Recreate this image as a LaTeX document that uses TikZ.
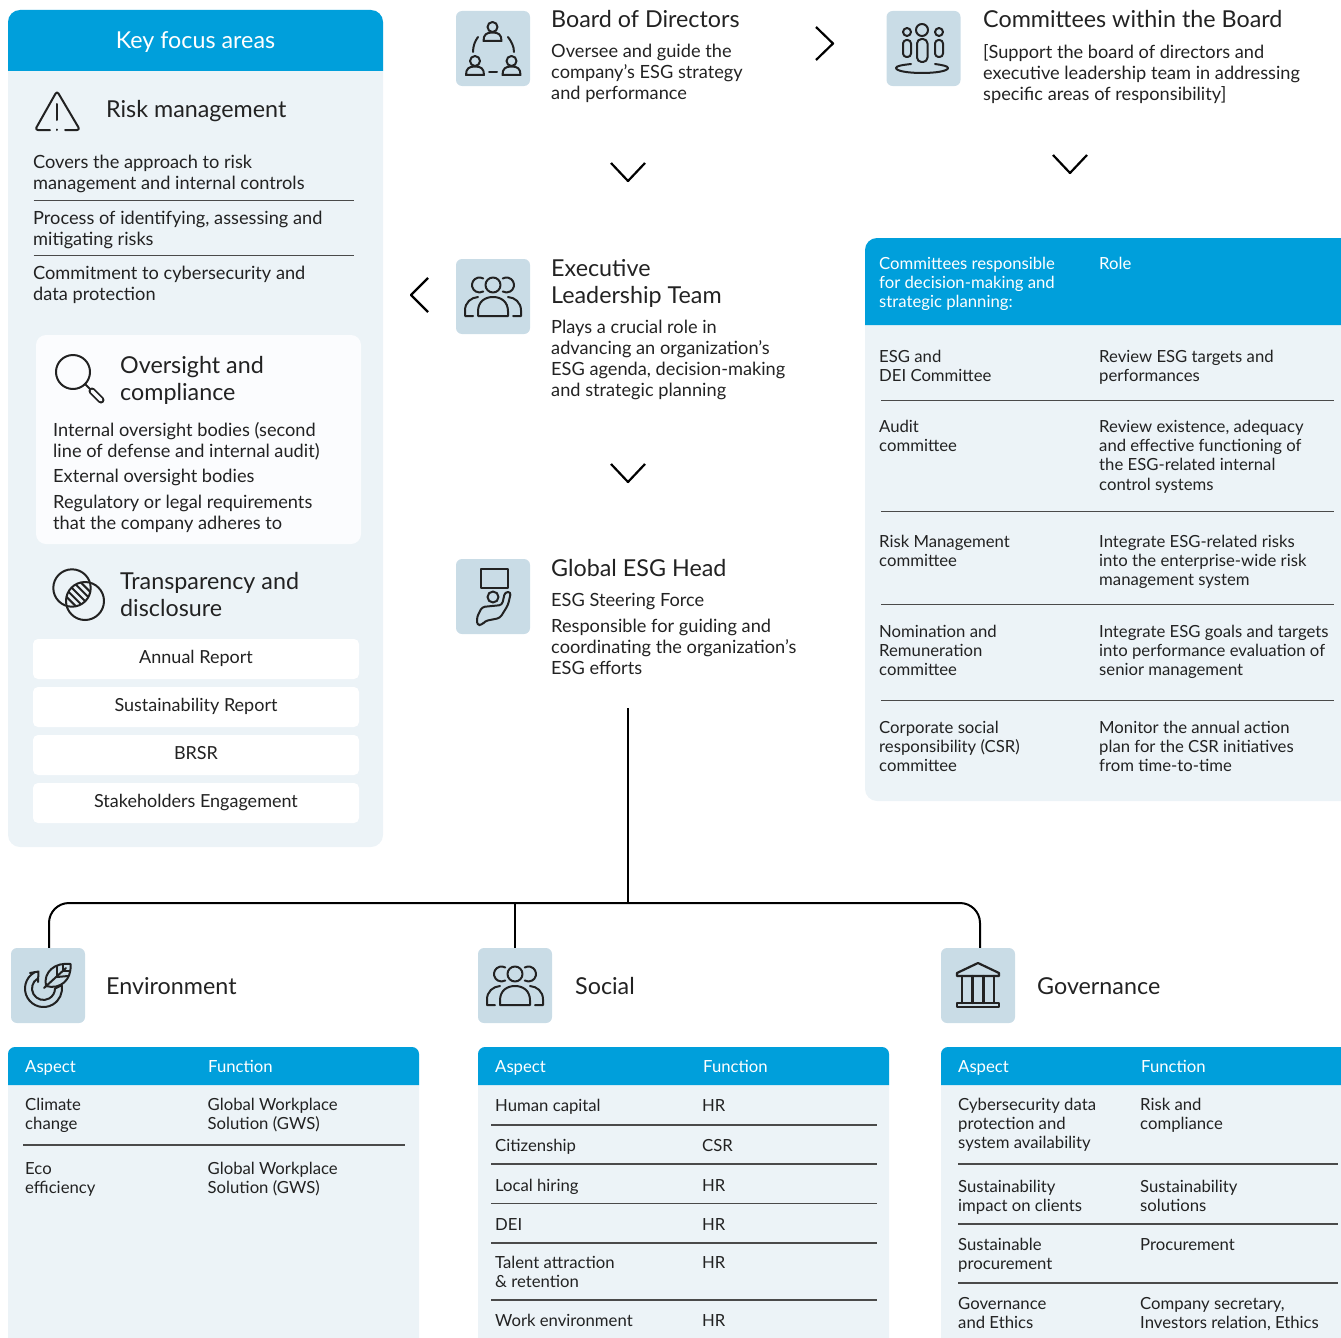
\documentclass[tikz,border=0pt]{standalone}
\usepackage{fontspec}
\setmainfont{Lato}
\usepackage{xcolor}
\definecolor{panelblue}{HTML}{ECF3F7}
\definecolor{headblue}{HTML}{009FDB}
\definecolor{iconblue}{HTML}{C9DCE6}
\definecolor{inkgray}{HTML}{222222}
\definecolor{rulegray}{HTML}{4A4A4A}
\definecolor{paperwhite}{HTML}{FBFCFE}
\tikzset{
    headtxt/.style={anchor=north west, inner sep=0pt, yshift=-2pt, align=left, text=inkgray, font=\fontsize{23.3}{27}\selectfont, execute at begin node=\strut},
    bodytxt/.style={anchor=north west, inner sep=0pt, yshift=-2pt, align=left, text=inkgray, font=\fontsize{18.2}{21}\selectfont, execute at begin node=\strut},
    celltxt/.style={anchor=north west, inner sep=0pt, yshift=-2pt, align=left, text=inkgray, font=\fontsize{16.7}{19.2}\selectfont, execute at begin node=\strut},
    whitecell/.style={celltxt, text=white},
    iconbox/.style={fill=iconblue, rounded corners=6pt, minimum width=74pt, minimum height=75pt, inner sep=0pt},
    pillbox/.style={fill=white, rounded corners=5pt, minimum width=326pt, minimum height=40pt, inner sep=0pt, text height=12pt, text depth=4pt, text=inkgray, font=\fontsize{18}{21}\selectfont},
    ruleln/.style={draw=rulegray, line width=1.2pt},
    icn/.style={draw=inkgray, line width=2pt, line cap=round, line join=round},
    chevron/.style={draw=black, line width=2.2pt, line join=round},
    chevdown/.pic={\draw[chevron] (-17,-9) -- (0,9) -- (17,-9);},
    headperson/.pic={
        \draw[icn] (0,-8) circle (5pt);
        \draw[icn] (-9,6) .. controls (-9,-0.5) and (-6,-2.5) .. (0,-2.5) .. controls (6,-2.5) and (9,-0.5) .. (9,6) -- cycle;
    },
    trio/.pic={
        \draw[icn] (0,-11.5) circle (7.5pt);
        \draw[icn] (-9.75,-18) arc[start angle=60, end angle=300, radius=7.5pt];
        \draw[icn] (9.75,-18) arc[start angle=120, end angle=-120, radius=7.5pt];
        \draw[icn] (-15,19.5) -- (-15,15) .. controls (-15,5) and (-8,0.5) .. (0,0.5) .. controls (8,0.5) and (15,5) .. (15,15) -- (15,19.5) -- cycle;
        \draw[icn] (-20,19.5) -- (-28,19.5) -- (-28,14) .. controls (-28,6) and (-22,1) .. (-15,0.5);
        \draw[icn] (20,19.5) -- (28,19.5) -- (28,14) .. controls (28,6) and (22,1) .. (15,0.5);
    },
}
\begin{document}
\begin{tikzpicture}[x=1pt, y=-1pt]
    \useasboundingbox (0,0) rectangle (1341,1338);

    % left panel
    \fill[panelblue, rounded corners=12pt] (8,10) rectangle (383,847);
    \fill[headblue] (8,71) [rounded corners=12pt] -- (8,10) -- (383,10) [sharp corners] -- (383,71) -- cycle;
    \fill[paperwhite, rounded corners=10pt] (36,335) rectangle (361,544);

    \node[anchor=center, inner sep=0pt, text=white, font=\fontsize{23.3}{27}\selectfont] (keyhead) at (195.5,42) {Key focus areas};
    \node[headtxt] (riskhead) at (106,96) {Risk management};
    \node[bodytxt] (riska) at (33,153) {Covers the approach to risk\\management and internal controls};
    \node[bodytxt] (riskb) at (33,209) {Process of identifying, assessing and\\mitigating risks};
    \node[bodytxt] (riskc) at (33,264) {Commitment to cybersecurity and\\data protection};
    \draw[ruleln] (33.5,200.5) -- (354,200.5);
    \draw[ruleln] (33.5,255.5) -- (354,255.5);

    \node[headtxt] (overhead) at (120,354) {Oversight and\\compliance};
    \node[bodytxt] (overa) at (53,420) {Internal oversight bodies (second\\line of defense and internal audit)};
    \node[bodytxt] (overb) at (53,466) {External oversight bodies};
    \node[bodytxt] (overc) at (53,493) {Regulatory or legal requirements\\that the company adheres to};

    \node[headtxt] (transhead) at (120,570) {Transparency and\\disclosure};
    \node[pillbox] (annual) at (196,659) {Annual Report};
    \node[pillbox] (sustrep) at (196,707) {Sustainability Report};
    \node[pillbox] (brsr) at (196,755) {BRSR};
    \node[pillbox] (stake) at (196,803) {Stakeholders Engagement};

    % warning sign
    \draw[icn, rounded corners=3pt] (50,130) -- (35,130) -- (57,91) -- (80,130) -- (65,130);
    \draw[icn] (57,104) -- (57,120);
    \draw[icn] (57,129.5) -- (57,130);
    % magnifier
    \draw[icn] (73,372) circle (17pt);
    \draw[icn] (85,384) -- (90,389);
    \draw[icn, line width=7pt] (92,391) -- (101,400);
    \draw[paperwhite, line width=3.2pt, line cap=round] (92,391) -- (101,400);
    % venn circles
    \begin{scope}
        \clip (72,588) circle (18.7pt);
        \clip (85,601) circle (19pt);
        \draw[icn] (57.3,587.7) -- (85.3,615.7);
        \draw[icn] (60.9,584.1) -- (88.9,612.1);
        \draw[icn] (64.5,580.5) -- (92.5,608.5);
        \draw[icn] (68.1,576.9) -- (96.1,604.9);
        \draw[icn] (71.7,573.3) -- (99.7,601.3);
    \end{scope}
    \draw[icn] (72,588) circle (18.7pt);
    \draw[icn] (85,601) circle (19pt);

    % middle column
    \node[iconbox] (boardicon) at (493,48.5) {};
    \node[iconbox] (commicon) at (923.5,48.5) {};
    \node[iconbox] (execicon) at (493,296.5) {};
    \node[iconbox] (esgicon) at (493,596.5) {};

    \pic at (492.5,35) {headperson};
    \pic at (475,69) {headperson};
    \pic at (511.5,69) {headperson};
    \draw[icn] (478,37) .. controls (475,41) and (473,46) .. (473,52);
    \draw[icn] (508,37) .. controls (511,41) and (514,46) .. (514,52);
    \draw[icn] (489,72) -- (497,72);

    \draw[icn] (922,30) circle (6pt);
    \draw[icn] (907,32) circle (4pt);
    \draw[icn] (939,32) circle (4pt);
    \draw[icn, rounded corners=4.5pt] (917,39) rectangle (927.5,62);
    \draw[icn, rounded corners=3.5pt] (903,40) rectangle (911,57);
    \draw[icn, rounded corners=3.5pt] (935,40) rectangle (943,57);
    \draw[icn] (911,64) .. controls (902,65) and (896,66) .. (896,68) .. controls (896,71) and (908,73) .. (922,73) .. controls (936,73) and (948,71) .. (948,68) .. controls (948,66) and (942,65) .. (935,64);

    \pic at (493,296.5) {trio};

    \draw[icn, line width=2.2pt] (481,569) rectangle (508,588);
    \draw[icn] (493,597) circle (5.5pt);
    \draw[icn, rounded corners=3pt] (505,592) -- (502,605) -- (482,607) -- (477,617) -- (477,625) -- (482,625) -- (485,621) -- (500,618) -- (508,605) -- (511,592) -- cycle;

    \node[headtxt] (boardhead) at (551,6) {Board of Directors};
    \node[bodytxt] (boardtxt) at (551,42) {Oversee and guide the\\company's ESG strategy\\and performance};
    \node[headtxt] (commhead) at (983,6) {Committees within the Board};
    \node[bodytxt] (commtxt) at (983,42) {[Support the board of directors and\\executive leadership team in addressing\\specific areas of responsibility]};
    \node[headtxt] (exechead) at (551,257) {Executive\\Leadership Team};
    \node[bodytxt] (exectxt) at (551,318) {Plays a crucial role in\\advancing an organization's\\ESG agenda, decision-making\\and strategic planning};
    \node[headtxt] (esghead) at (551,555) {Global ESG Head};
    \node[bodytxt] (esgsub) at (551,590) {ESG Steering Force};
    \node[bodytxt] (esgtxt) at (551,617) {Responsible for guiding and\\coordinating the organization's\\ESG efforts};

    % chevrons
    \draw[chevron] (816,27) -- (833,43.5) -- (816,60);
    \draw[chevron] (428,278) -- (411,295) -- (428,312);
    \pic at (628,172) {chevdown};
    \pic at (1070,164) {chevdown};
    \pic at (628,473) {chevdown};

    % committees table
    \fill[panelblue] (1341,238) [rounded corners=12pt] -- (865,238) -- (865,801) [sharp corners] -- (1341,801) -- cycle;
    \fill[headblue] (1341,238) [rounded corners=12pt] -- (865,238) [sharp corners] -- (865,325) -- (1341,325) -- cycle;
    \node[whitecell] (rolehead) at (879,255) {Committees responsible\\for decision-making and\\strategic planning:};
    \node[whitecell] (rolelab) at (1099,254) {Role};
    \node[celltxt] (esgcom) at (879,348) {ESG and\\DEI Committee};
    \node[celltxt] (esgrole) at (1099,348) {Review ESG targets and\\performances};
    \node[celltxt] (auditcom) at (879,418) {Audit\\committee};
    \node[celltxt] (auditrole) at (1099,418) {Review existence, adequacy\\and effective functioning of\\the ESG-related internal\\control systems};
    \node[celltxt] (riskcom) at (879,533) {Risk Management\\committee};
    \node[celltxt] (riskrole) at (1099,533) {Integrate ESG-related risks\\into the enterprise-wide risk\\management system};
    \node[celltxt] (nomcom) at (879,623) {Nomination and\\Remuneration\\committee};
    \node[celltxt] (nomrole) at (1099,623) {Integrate ESG goals and targets\\into performance evaluation of\\senior management};
    \node[celltxt] (csrcom) at (879,719) {Corporate social\\responsibility (CSR)\\committee};
    \node[celltxt] (csrrole) at (1099,719) {Monitor the annual action\\plan for the CSR initiatives\\from time-to-time};
    \draw[ruleln] (881,400.5) -- (1334,400.5);
    \draw[ruleln] (881,511.5) -- (1334,511.5);
    \draw[ruleln] (881,604.5) -- (1334,604.5);
    \draw[ruleln] (881,700.5) -- (1334,700.5);

    % pillars
    \node[iconbox] (envicon) at (48,985.5) {};
    \node[iconbox] (socicon) at (515,985.5) {};
    \node[iconbox] (govicon) at (978,985.5) {};
    \coordinate (esgend) at (628,708);
    \coordinate (hub) at (628,903);
    \draw[black, line width=2pt] (esgend) -- (hub);
    \draw[black, line width=2pt, rounded corners=20pt] ([xshift=1pt]envicon.north) |- (hub) -| ([xshift=2pt]govicon.north);
    \draw[black, line width=2pt] (socicon.north) -- (socicon.north |- hub);

    % leaf and cycle
    \draw[icn] (34.25,972.5) arc[start angle=120, end angle=370, radius=18.5pt];
    \draw[icn] (37.75,978.5) arc[start angle=120, end angle=360, radius=11.5pt];
    \draw[icn] (55,988.5) -- (61.7,985.3);
    \draw[icn] (30,973) -- (38.5,971.5) -- (38,982);
    \draw[icn] (46,986) .. controls (43,972) and (55,962) .. (70.5,964) .. controls (72,980) and (60,990) .. (46,986);
    \draw[icn] (44,988) -- (66,968);
    \draw[icn] (57,977) -- (57,966);
    \draw[icn] (57,977) -- (68,976);
    \draw[icn] (63,971) -- (63,965);
    \draw[icn] (63,971) -- (69,971);

    \pic at (515,985.5) {trio};

    \draw[icn, line width=2.2pt] (978,963) -- (957,973) -- (957,976) -- (999,976) -- (999,973) -- cycle;
    \draw[icn, line width=2.2pt] (962,976) -- (962,1003);
    \draw[icn, line width=2.2pt] (972.5,976) -- (972.5,1003);
    \draw[icn, line width=2.2pt] (983.5,976) -- (983.5,1003);
    \draw[icn, line width=2.2pt] (994,976) -- (994,1003);
    \draw[icn, line width=2.2pt] (957,1003) rectangle (999,1007);

    \node[headtxt] (envhead) at (106,973) {Environment};
    \node[headtxt] (sochead) at (575,973) {Social};
    \node[headtxt] (govhead) at (1037,973) {Governance};

    % environment table
    \fill[panelblue] (8,1338) [rounded corners=7pt] -- (8,1047) -- (419,1047) [sharp corners] -- (419,1338) -- cycle;
    \fill[headblue] (8,1085) [rounded corners=7pt] -- (8,1047) -- (419,1047) [sharp corners] -- (419,1085) -- cycle;
    \node[whitecell] (envasp) at (25,1057) {Aspect};
    \node[whitecell] (envfun) at (208,1057) {Function};
    \node[celltxt] (climate) at (25,1096) {Climate\\change};
    \node[celltxt] (climfun) at (207.5,1096) {Global Workplace\\Solution (GWS)};
    \node[celltxt] (eco) at (25,1160) {Eco\\efficiency};
    \node[celltxt] (ecofun) at (207.5,1160) {Global Workplace\\Solution (GWS)};
    \draw[ruleln] (23,1145) -- (405,1145);

    % social table
    \fill[panelblue] (478,1338) [rounded corners=7pt] -- (478,1047) -- (889,1047) [sharp corners] -- (889,1338) -- cycle;
    \fill[headblue] (478,1085) [rounded corners=7pt] -- (478,1047) -- (889,1047) [sharp corners] -- (889,1085) -- cycle;
    \node[whitecell] (socasp) at (495,1057) {Aspect};
    \node[whitecell] (socfun) at (703,1057) {Function};
    \node[celltxt] (human) at (495,1096) {Human capital};
    \node[celltxt] (humanfun) at (702,1096) {HR};
    \node[celltxt] (citizen) at (495,1136) {Citizenship};
    \node[celltxt] (citizenfun) at (702,1136) {CSR};
    \node[celltxt] (hiring) at (495,1176) {Local hiring};
    \node[celltxt] (hiringfun) at (702,1176) {HR};
    \node[celltxt] (dei) at (495,1215) {DEI};
    \node[celltxt] (deifun) at (702,1215) {HR};
    \node[celltxt] (talent) at (495,1254) {Talent attraction\\\& retention};
    \node[celltxt] (talentfun) at (702,1253) {HR};
    \node[celltxt] (workenv) at (495,1311) {Work environment};
    \node[celltxt] (workfun) at (702,1311) {HR};
    \draw[ruleln] (491,1125) -- (877,1125);
    \draw[ruleln] (491,1164) -- (877,1164);
    \draw[ruleln] (491,1203.5) -- (877,1203.5);
    \draw[ruleln] (491,1243) -- (877,1243);
    \draw[ruleln] (491,1300) -- (877,1300);

    % governance table
    \fill[panelblue] (941,1338) [rounded corners=7pt] -- (941,1047) [sharp corners] -- (1341,1047) -- (1341,1338) -- cycle;
    \fill[headblue] (941,1085) [rounded corners=7pt] -- (941,1047) [sharp corners] -- (1341,1047) -- (1341,1085) -- cycle;
    \node[whitecell] (govasp) at (958,1057) {Aspect};
    \node[whitecell] (govfun) at (1141,1057) {Function};
    \node[celltxt] (cyber) at (958,1096) {Cybersecurity data\\protection and\\system availability};
    \node[celltxt] (cyberfun) at (1140,1096) {Risk and\\compliance};
    \node[celltxt] (impact) at (958,1178) {Sustainability\\impact on clients};
    \node[celltxt] (impactfun) at (1140,1178) {Sustainability\\solutions};
    \node[celltxt] (procure) at (958,1236) {Sustainable\\procurement};
    \node[celltxt] (procurefun) at (1140,1235) {Procurement};
    \node[celltxt] (ethics) at (958,1295) {Governance\\and Ethics};
    \node[celltxt] (ethicsfun) at (1140,1295) {Company secretary,\\Investors relation, Ethics};
    \draw[ruleln] (958,1164) -- (1338,1164);
    \draw[ruleln] (958,1224) -- (1338,1224);
    \draw[ruleln] (958,1283) -- (1338,1283);
\end{tikzpicture}
\end{document}
